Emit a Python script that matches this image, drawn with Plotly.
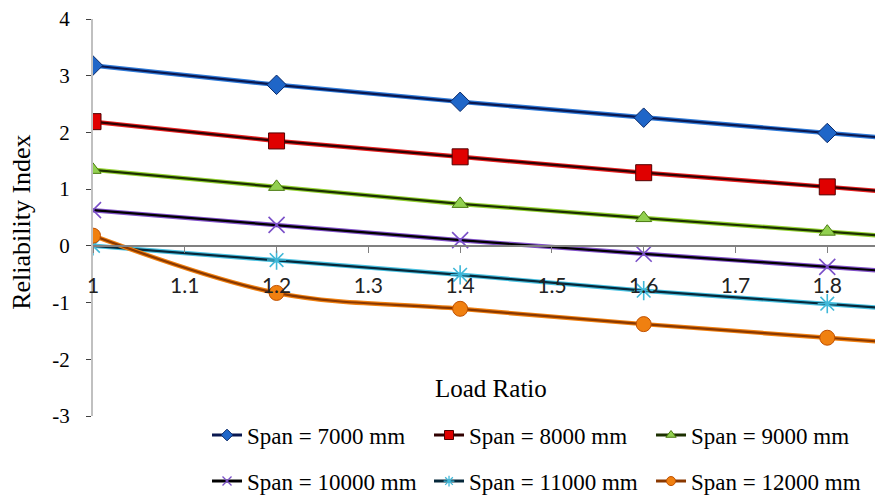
import plotly.graph_objects as go

load_ratio = [1.0, 1.2, 1.4, 1.6, 1.8, 2.0]
span_names = ["Span = 7000 mm", "Span = 8000 mm", "Span = 9000 mm",
              "Span = 10000 mm", "Span = 11000 mm", "Span = 12000 mm"]
span_7000 = [3.18, 2.84, 2.54, 2.26, 1.99, 1.72]
span_8000 = [2.19, 1.85, 1.57, 1.29, 1.04, 0.78]
span_9000 = [1.34, 1.04, 0.74, 0.49, 0.25, 0.01]
span_10000 = [0.63, 0.37, 0.10, -0.14, -0.37, -0.60]
span_11000 = [0.00, -0.25, -0.51, -0.79, -1.02, -1.26]
span_12000 = [0.18, -0.83, -1.11, -1.38, -1.62, -1.86]
series = [span_7000, span_8000, span_9000, span_10000, span_11000, span_12000]

x_ticks = [1.0, 1.1, 1.2, 1.3, 1.4, 1.5, 1.6, 1.7, 1.8]
x_tick_text = ["1", "1.1", "1.2", "1.3", "1.4", "1.5", "1.6", "1.7", "1.8"]
y_ticks = [-3, -2, -1, 0, 1, 2, 3, 4]
y_tick_text = ["-3", "-2", "-1", "0", "1", "2", "3", "4"]

glow = ["#2f7ad8", "#e82020", "#92d030", "#8050c8", "#48c0e0", "#f08010"]
core = ["#0a1850", "#300000", "#1c3000", "#000000", "#06283a", "#8a3800"]
symbols = ["diamond", "square", "triangle-up", "x-thin-open", "asterisk-open", "circle"]
mfill = ["#1f66c8", "#e00000", "#92d050", "#7a4fc8", "#40b8d8", "#f08010"]
mline = ["#0a2a6a", "#500000", "#4a7a10", "#7a4fc8", "#40b8d8", "#c05000"]
msize = [15, 16, 14, 16, 16, 15]
shapes_line = ["linear", "linear", "linear", "linear", "linear", "spline"]

serif = "Liberation Serif"
fig = go.Figure()
for i, vals in enumerate(series):
    fig.add_trace(go.Scatter(x=load_ratio, y=vals, mode="lines",
                             line=dict(color=glow[i], width=4.5, shape=shapes_line[i]),
                             showlegend=False, hoverinfo="skip"))
    fig.add_trace(go.Scatter(x=load_ratio, y=vals, mode="lines+markers", name=span_names[i],
                             line=dict(color=core[i], width=2.2, shape=shapes_line[i]),
                             marker=dict(symbol=symbols[i], size=msize[i], color=mfill[i],
                                         line=dict(color=mline[i], width=1.6 if i in (3, 4) else 1)),
                             showlegend=False))
# legend entries with smaller symbols, as in the reference
for i in range(6):
    fig.add_trace(go.Scatter(x=[None], y=[None], mode="lines+markers", name=span_names[i],
                             line=dict(color=core[i], width=3),
                             marker=dict(symbol=symbols[i], size=9, color=mfill[i],
                                         line=dict(color=mline[i], width=1.3 if i in (3, 4) else 1)),
                             legend="legend" if i < 3 else "legend2"))

fig.update_layout(
    width=875, height=497,
    margin=dict(l=93, r=0, t=19, b=81, autoexpand=False),
    paper_bgcolor="white", plot_bgcolor="white",
    font=dict(family=serif, color="black", size=17),
    xaxis=dict(range=[1.0, 1.852], tickvals=x_ticks, ticktext=x_tick_text,
               anchor="free", position=3 / 7, showgrid=False, zeroline=False,
               showline=True, linecolor="#808080", linewidth=1.5,
               ticks="outside", ticklen=6, tickcolor="#808080",
               ticklabelstandoff=15, tickfont=dict(size=21, family="Lato", color="#222")),
    yaxis=dict(range=[-3, 4], tickvals=y_ticks, ticktext=y_tick_text,
               showgrid=False, zeroline=False, showline=True, linecolor="#c0c0c0",
               linewidth=2, ticks="outside", ticklen=5, tickcolor="#404040",
               ticklabelstandoff=12, tickfont=dict(size=21, family=serif)),
    legend=dict(orientation="h", x=0.1458, y=-0.048, xanchor="left", yanchor="middle",
                font=dict(size=23, family=serif), bgcolor="rgba(0,0,0,0)",
                entrywidth=177, entrywidthmode="pixels", itemwidth=30),
    legend2=dict(orientation="h", x=0.1458, y=-0.164, xanchor="left", yanchor="middle",
                 font=dict(size=23, family=serif), bgcolor="rgba(0,0,0,0)",
                 entrywidth=177, entrywidthmode="pixels", itemwidth=30),
    annotations=[
        dict(text="Load Ratio", xref="paper", yref="paper", x=0.509, y=0.0705,
             xanchor="center", yanchor="middle", showarrow=False,
             font=dict(size=25, family=serif)),
        dict(text="Reliability Index", xref="paper", yref="paper", x=-0.0908, y=0.489,
             xanchor="center", yanchor="middle", textangle=-90, showarrow=False,
             font=dict(size=26, family=serif)),
    ],
)
fig.write_html("out.html")
